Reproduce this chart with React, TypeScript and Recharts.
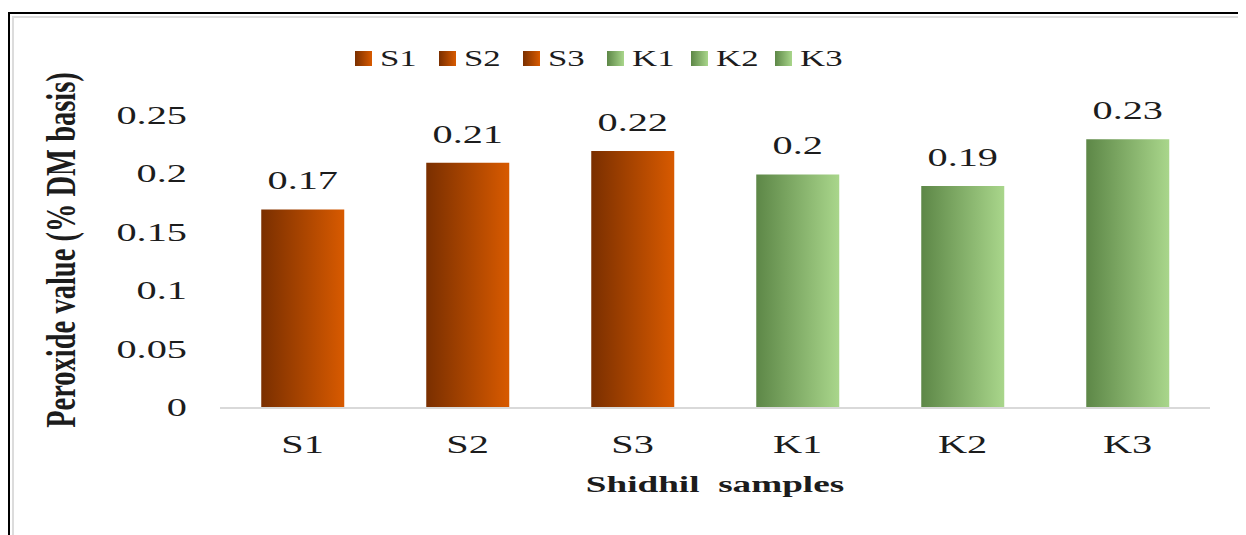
import React from 'react';
import { BarChart, Bar, XAxis, YAxis, Cell, LabelList } from 'recharts';

const categories = ['S1', 'S2', 'S3', 'K1', 'K2', 'K3'];
const peroxideValues = [0.17, 0.21, 0.22, 0.2, 0.19, 0.23];
const sampleGroups = ['S', 'S', 'S', 'K', 'K', 'K'];
const yTicks = [0, 0.05, 0.1, 0.15, 0.2, 0.25];
const xTitle = 'Shidhil\u00a0\u00a0samples';
const yTitle = 'Peroxide value (% DM basis)';

const data = categories.map((c, i) => ({ name: c, value: peroxideValues[i], group: sampleGroups[i] }));

const FONT = '"Liberation Serif", "Times New Roman", serif';
const SX = 1.55;
const INK = '#1c1c1c';
const gradId = (g: string) => (g === 'S' ? 'gradS' : 'gradK');
const swatchBg: Record<string, string> = {
  S: 'linear-gradient(to right, #7a2f00, #d85a00)',
  K: 'linear-gradient(to right, #5d8747, #a9d68b)',
};

const fmt = (v: number) => String(v);

function SText({ x, y, text, size = 26, bold = false, anchor = 'middle', rotate = 0, sx = SX }: any) {
  return (
    <text
      transform={`translate(${x},${y}) scale(${sx},1)${rotate ? ` rotate(${rotate})` : ''}`}
      textAnchor={anchor}
      fontFamily={FONT}
      fontSize={size}
      fontWeight={bold ? 'bold' : 'normal'}
      fill={INK}
    >
      {text}
    </text>
  );
}

const XTick = (props: any) => {
  const { x, y, payload } = props;
  return <SText x={x} y={y + 45} text={payload.value} />;
};

const YTick = (props: any) => {
  const { x, y, payload } = props;
  return <SText x={x - 33} y={y + 8} text={fmt(payload.value)} anchor="end" />;
};

const ValueLabel = (props: any) => {
  const { x, y, width, value } = props;
  return <SText x={x + width / 2} y={y - 20} text={fmt(value)} />;
};

const XTitle = (props: any) => {
  const vb = props.viewBox;
  return <SText x={vb.x + vb.width / 2} y={vb.y + 84} text={xTitle} bold size={24} />;
};

const YTitle = (props: any) => {
  const vb = props.viewBox;
  return <SText x={vb.x - 45} y={vb.y + vb.height / 2 - 12} text={yTitle} bold size={28.5} rotate={-90} sx={1.5} />;
};

function LegendRow() {
  return (
    <div style={{ position: 'absolute', left: 347, top: 38, display: 'flex' }}>
      {categories.map((c, i) => (
        <div key={c} style={{ width: 84, display: 'flex', alignItems: 'center', height: 24 }}>
          <div style={{ width: 17, height: 15, background: swatchBg[sampleGroups[i]], marginRight: 8 }} />
          <span
            style={{
              display: 'inline-block',
              fontFamily: FONT,
              fontSize: 24,
              color: INK,
              transform: `scaleX(1.45)`,
              transformOrigin: 'left center',
              lineHeight: '24px',
            }}
          >
            {c}
          </span>
        </div>
      ))}
    </div>
  );
}

export default function App() {
  return (
    <div style={{ position: 'relative', width: 1238, height: 527, overflow: 'hidden', background: '#fff' }}>
      <div style={{ position: 'absolute', left: 0, top: 4, width: 1300, height: 600, border: '2px solid #000', boxSizing: 'border-box' }} />
      <div style={{ position: 'absolute', left: 4, top: 8, width: 1300, height: 600, border: '2px solid #dcdcdc', boxSizing: 'border-box' }} />
      <div style={{ position: 'absolute', left: 0, top: 0 }}>
        <BarChart
          width={1238}
          height={527}
          data={data}
          margin={{ top: 108, right: 36, bottom: 67, left: 112 }}
          barCategoryGap="25%"
        >
          <defs>
            <linearGradient id="gradS" x1="0" y1="0" x2="1" y2="0">
              <stop offset="0%" stopColor="#7a2f00" />
              <stop offset="100%" stopColor="#d85a00" />
            </linearGradient>
            <linearGradient id="gradK" x1="0" y1="0" x2="1" y2="0">
              <stop offset="0%" stopColor="#5d8747" />
              <stop offset="100%" stopColor="#a9d68b" />
            </linearGradient>
          </defs>
          <XAxis
            dataKey="name"
            height={60}
            axisLine={{ stroke: '#d9d9d9', strokeWidth: 2 }}
            tickLine={false}
            tickSize={0}
            tickMargin={0}
            tick={<XTick />}
            interval={0}
            label={<XTitle />}
          />
          <YAxis
            width={100}
            domain={[0, 0.25]}
            ticks={yTicks}
            axisLine={false}
            tickLine={false}
            tickSize={0}
            tickMargin={0}
            tick={<YTick />}
            interval={0}
            label={<YTitle />}
          />
          <Bar dataKey="value" isAnimationActive={false}>
            {data.map((d) => (
              <Cell key={d.name} fill={`url(#${gradId(d.group)})`} />
            ))}
            <LabelList dataKey="value" content={<ValueLabel />} />
          </Bar>
        </BarChart>
      </div>
      <LegendRow />
    </div>
  );
}
